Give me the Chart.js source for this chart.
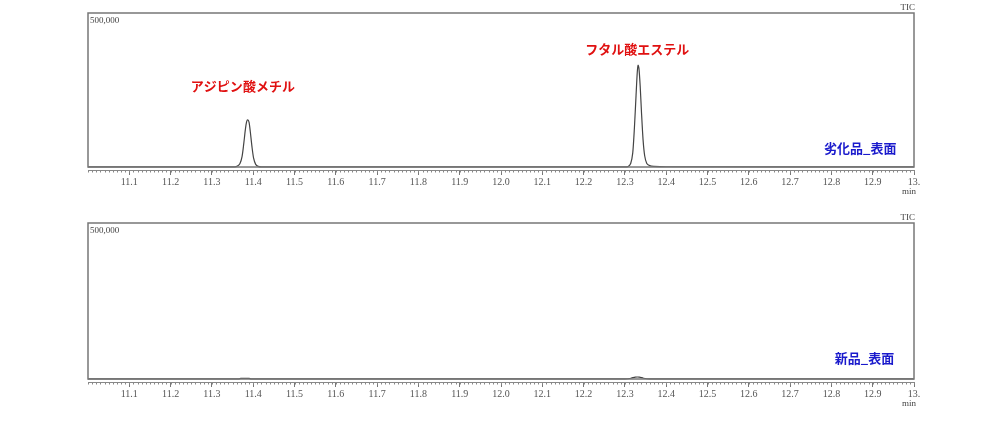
<!DOCTYPE html>
<html>
<head>
<meta charset="utf-8">
<script src="https://cdn.jsdelivr.net/npm/chart.js@4"></script>
<style>
  body { margin: 0; background: #fff; }
  .wrap { position: absolute; left: 0; width: 1003px; }
</style>
</head>
<body>
<div class="wrap" style="top:0;height:210px"><canvas id="top"></canvas></div>
<div class="wrap" style="top:210px;height:212px"><canvas id="bottom"></canvas></div>
<script>
// retention time (min) and TIC intensity
var timesAged = [11.0, 11.355, 11.362, 11.368, 11.373, 11.377, 11.381, 11.384, 11.387, 11.390, 11.393, 11.397, 11.401, 11.406, 11.412, 11.42,
                 12.30, 12.308, 12.314, 12.319, 12.323, 12.327, 12.330, 12.332, 12.334, 12.337, 12.340, 12.344, 12.348, 12.353, 12.36, 12.37, 12.40, 13.0];
var ticAged   = [5000, 5200, 8000, 16000, 38000, 78000, 125000, 150000, 156000, 148000, 118000, 70000, 33000, 13000, 6800, 5200,
                 5000, 6500, 16000, 50000, 130000, 235000, 310000, 332000, 322000, 265000, 185000, 92000, 40000, 16000, 9000, 6800, 5500, 5000];
var timesNew  = [11.0, 11.365, 11.37, 11.39, 11.395, 12.30, 12.315, 12.325, 12.335, 12.345, 12.36, 13.0];
var ticNew    = [5000, 5000, 6200, 6200, 5000, 5000, 7000, 10500, 10500, 7000, 5000, 5000];
var xTickValues = [11.1, 11.2, 11.3, 11.4, 11.5, 11.6, 11.7, 11.8, 11.9, 12.0, 12.1, 12.2, 12.3, 12.4, 12.5, 12.6, 12.7, 12.8, 12.9, 13.0];

function pts(t, v) { return t.map(function (x, i) { return { x: x, y: v[i] }; }); }

var decor = {
  id: 'decor',
  afterDraw: function (chart, args, o) {
    var ctx = chart.ctx, a = chart.chartArea, xs = chart.scales.x, ys = chart.scales.y;
    ctx.save();
    ctx.strokeStyle = '#777';
    ctx.lineWidth = 1.5;
    ctx.strokeRect(a.left, a.top, a.right - a.left, a.bottom - a.top - 3);
    // minor ticks
    ctx.lineWidth = 1;
    ctx.strokeStyle = '#888';
    for (var i = 0; i <= 200; i++) {
      var px = Math.round(xs.getPixelForValue(11 + i * 0.01)) + 0.5;
      ctx.beginPath(); ctx.moveTo(px, a.bottom); ctx.lineTo(px, a.bottom + 2.5); ctx.stroke();
    }
    ctx.fillStyle = '#444';
    ctx.font = '9px "Liberation Serif"';
    ctx.textAlign = 'left'; ctx.textBaseline = 'top';
    ctx.fillText('500,000', a.left + 2, a.top + 3);
    ctx.textAlign = 'right'; ctx.textBaseline = 'bottom';
    ctx.fillText('TIC', a.right + 1, a.top - 1);
    ctx.textAlign = 'right'; ctx.textBaseline = 'top';
    ctx.fillText('min', a.right + 2, a.bottom + o.minGap);
    ctx.font = 'bold 13px "Noto Sans CJK JP"';
    ctx.textAlign = 'center'; ctx.textBaseline = 'middle';
    (o.notes || []).forEach(function (n) {
      ctx.fillStyle = n.color;
      ctx.fillText(n.text, xs.getPixelForValue(n.x), ys.getPixelForValue(n.y));
    });
    ctx.restore();
  }
};

function makeChart(id, t, v, padTop, notes, minGap) {
  return new Chart(document.getElementById(id), {
    type: 'line',
    data: {
      datasets: [{
        data: pts(t, v),
        borderColor: '#444',
        borderWidth: 1.2,
        pointRadius: 0,
        tension: 0.25,
        fill: false
      }]
    },
    options: {
      responsive: true,
      maintainAspectRatio: false,
      animation: false,
      layout: { padding: { left: 88, right: 89, top: padTop, bottom: 0 } },
      plugins: {
        legend: { display: false },
        tooltip: { enabled: false },
        decor: { notes: notes, minGap: minGap }
      },
      scales: {
        x: {
          type: 'linear', min: 11, max: 13,
          afterBuildTicks: function (s) { s.ticks = xTickValues.map(function (x) { return { value: x }; }); },
          afterFit: function (s) { s.height = 40; },
          ticks: {
            autoSkip: false, maxRotation: 0, padding: 1,
            color: '#555',
            font: { family: 'Liberation Serif', size: 10 },
            callback: function (val) { return val >= 13 ? '13.' : val.toFixed(1); }
          },
          grid: { drawOnChartArea: false, tickLength: 5, color: '#777' },
          border: { display: true, color: '#888', width: 1 }
        },
        y: { display: false, min: -5000, max: 500000 }
      }
    },
    plugins: [decor]
  });
}

makeChart('top', timesAged, ticAged, 13, [
  { text: 'アジピン酸メチル', x: 11.375, y: 265000, color: '#e01010' },
  { text: 'フタル酸エステル', x: 12.33, y: 385000, color: '#e01010' },
  { text: '劣化品_表面', x: 12.87, y: 65000, color: '#1a1acc' }
], 17);
makeChart('bottom', timesNew, ticNew, 13, [
  { text: '新品_表面', x: 12.88, y: 70000, color: '#1a1acc' }
], 17);
</script>
</body>
</html>
